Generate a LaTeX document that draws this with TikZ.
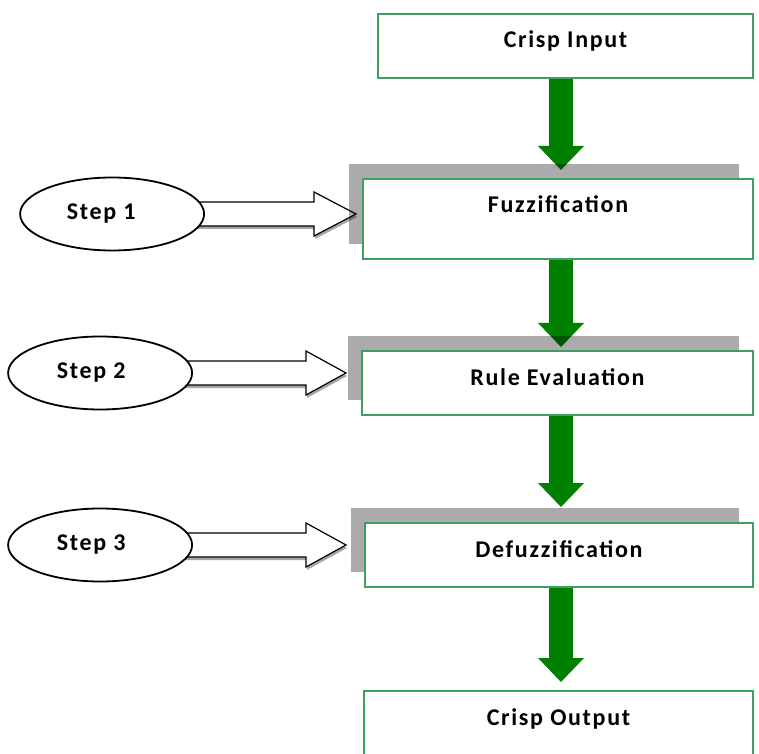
\documentclass[tikz,border=0pt]{standalone}
\usepackage{fontspec}
\setmainfont{Carlito}[LetterSpace=7]
\usetikzlibrary{arrows.meta,positioning,calc,shapes.geometric,shadows}

\definecolor{flowgreen}{RGB}{0,128,0}
\definecolor{boxgreen}{RGB}{60,160,100}
\pgfdeclarelayer{background}
\pgfsetlayers{background,main}

\begin{document}
\begin{tikzpicture}[x=1pt,y=1pt,
    font=\fontsize{24}{28}\selectfont\bfseries,
    stage/.style={draw=boxgreen,line width=2pt,fill=white,inner ysep=0pt,
                  text height=34pt,text depth=#1},
    boxshadow/.style={drop shadow={shadow xshift=-14pt,shadow yshift=15pt,
                      fill=black,opacity=.33}},
    stepnode/.style={ellipse,draw,line width=1.8pt,fill=white,
                     minimum width=184pt,minimum height=73pt,inner sep=0pt},
    flow/.style={flowgreen,line width=24pt,
                 -{Triangle[width=46pt,length=24pt,line width=0pt]}},
    hollow/.style={draw,line width=1.2pt,fill=white,line join=miter,
                   drop shadow={shadow xshift=1pt,shadow yshift=-3pt,
                                fill=black,opacity=.35}}]
  \useasboundingbox (0,0) rectangle (759,753);

  % process boxes
  \node[stage=30pt,minimum width=375pt,anchor=north east] (in) at (754,740) {Crisp Input};
  \node[stage=46pt,boxshadow,minimum width=390pt,
        below=99pt of in.south east,anchor=north east] (fz) {Fuzzification};
  \node[stage=30pt,boxshadow,minimum width=391pt,
        below=90pt of fz.south east,anchor=north east] (re) {Rule Evaluation};
  \node[stage=30pt,boxshadow,minimum width=388pt,
        below=106pt of re.south east,anchor=north east] (df) {Defuzzification};
  \node[stage=32pt,minimum width=389pt,
        below=102pt of df.south east,anchor=north east] (out) {Crisp Output};

  % steps
  \node[stepnode,left=157pt of fz.west,yshift=5pt]  (s1) {Step 1\hspace*{22pt}};
  \node[stepnode,left=168pt of re.west,yshift=10pt] (s2) {Step 2\hspace*{18pt}};
  \node[stepnode,left=171pt of df.west,yshift=10pt] (s3) {Step 3\hspace*{18pt}};

  \coordinate (t1) at ($(s1.east -| fz.west)+(-6,0)$);
  \coordinate (t2) at ($(s2.east -| re.west)+(-15,0)$);
  \coordinate (t3) at ($(s3.east -| df.west)+(-18,0)$);
  \coordinate (axis) at (561,0);

  \begin{pgfonlayer}{background}
    \draw[flow,shorten >=8pt]  (in.south -| axis) -- (fz.north -| axis);
    \draw[flow,shorten >=3pt]  (fz.south -| axis) -- (re.north -| axis);
    \draw[flow,shorten >=15pt] (re.south -| axis) -- (df.north -| axis);
    \draw[flow,shorten >=8pt]  (df.south -| axis) -- (out.north -| axis);

    \draw[hollow] (t1) -- ++(-42,22) -- ++(0,-10) -- ([yshift=12pt]s1.center)
      -- ([yshift=-12pt]s1.center) -- ($(t1)+(-42,-12)$) -- ++(0,-10) -- cycle;
    \draw[hollow] (t2) -- ++(-40,22) -- ++(0,-10) -- ([yshift=12pt]s2.center)
      -- ([yshift=-12pt]s2.center) -- ($(t2)+(-40,-12)$) -- ++(0,-10) -- cycle;
    \draw[hollow] (t3) -- ++(-40,22) -- ++(0,-10) -- ([yshift=12pt]s3.center)
      -- ([yshift=-12pt]s3.center) -- ($(t3)+(-40,-12)$) -- ++(0,-10) -- cycle;
  \end{pgfonlayer}
\end{tikzpicture}
\end{document}
